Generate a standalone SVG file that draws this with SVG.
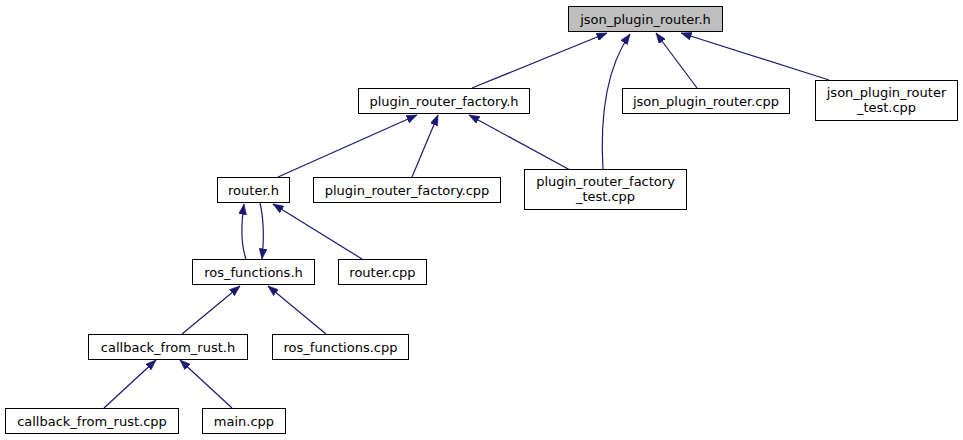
<svg xmlns="http://www.w3.org/2000/svg" width="963" height="440" viewBox="0 0 963 440">
<style>
.n rect{fill:#ffffff;stroke:#000000;stroke-width:1}
.n.root rect{fill:#bfbfbf}
.n text{font-family:"DejaVu Sans",sans-serif;font-size:13px;fill:#000000;text-anchor:middle}
.e path{fill:none;stroke:#191970;stroke-width:1.2;marker-end:url(#ah)}
</style>
<defs>
<marker id="ah" markerUnits="userSpaceOnUse" markerWidth="11" markerHeight="8" refX="10.5" refY="4" orient="auto">
<path d="M0,0 L10.5,4 L0,8 z" fill="#191970" stroke="#191970" stroke-width="0.5"/>
</marker>
</defs>
<rect width="963" height="440" fill="#ffffff"/>
<g id="edges" class="e">
<path d="M472,88 L607,33"/>
<path d="M603,170 C600,120 605,70 630,34"/>
<path d="M697,88 L656,33"/>
<path d="M829,80 L681,33"/>
<path d="M278,177 L417,115"/>
<path d="M412,177 L438,115"/>
<path d="M570,170 L469,115"/>
<path d="M246,259 C241,245 241,225 244,204"/>
<path d="M260,203 C264,220 264,240 262,259"/>
<path d="M362,259 L273,204"/>
<path d="M182,334 L240,286"/>
<path d="M326,334 L268,286"/>
<path d="M104,408 L156,360"/>
<path d="M232,408 L180,360"/>
</g>
<g id="json_plugin_router_h" class="n root"><rect x="568.5" y="6.5" width="154" height="25"/><text x="645.5" y="23.5">json_plugin_router.h</text></g>
<g id="plugin_router_factory_h" class="n"><rect x="358.5" y="88.5" width="171" height="25"/><text x="444" y="105.5">plugin_router_factory.h</text></g>
<g id="json_plugin_router_cpp" class="n"><rect x="622.5" y="88.5" width="167" height="25"/><text x="706" y="105.5">json_plugin_router.cpp</text></g>
<g id="json_plugin_router_test_cpp" class="n"><rect x="815.5" y="80.5" width="142" height="40"/><text x="886.5" y="97">json_plugin_router</text><text x="886.5" y="112">_test.cpp</text></g>
<g id="router_h" class="n"><rect x="217.5" y="177.5" width="72" height="25"/><text x="253.5" y="194.5">router.h</text></g>
<g id="plugin_router_factory_cpp" class="n"><rect x="313.5" y="177.5" width="187" height="25"/><text x="407" y="194.5">plugin_router_factory.cpp</text></g>
<g id="plugin_router_factory_test_cpp" class="n"><rect x="524.5" y="169.5" width="162" height="40"/><text x="605.5" y="186">plugin_router_factory</text><text x="605.5" y="201">_test.cpp</text></g>
<g id="ros_functions_h" class="n"><rect x="192.5" y="259.5" width="122" height="25"/><text x="253.5" y="276.5">ros_functions.h</text></g>
<g id="router_cpp" class="n"><rect x="338.5" y="259.5" width="88" height="25"/><text x="382.5" y="276.5">router.cpp</text></g>
<g id="callback_from_rust_h" class="n"><rect x="88.5" y="334.5" width="159" height="25"/><text x="168" y="351.5">callback_from_rust.h</text></g>
<g id="ros_functions_cpp" class="n"><rect x="272.5" y="334.5" width="136" height="25"/><text x="340.5" y="351.5">ros_functions.cpp</text></g>
<g id="callback_from_rust_cpp" class="n"><rect x="5.5" y="408.5" width="173" height="25"/><text x="92" y="425.5">callback_from_rust.cpp</text></g>
<g id="main_cpp" class="n"><rect x="202.5" y="408.5" width="83" height="25"/><text x="244" y="425.5">main.cpp</text></g>
</svg>
